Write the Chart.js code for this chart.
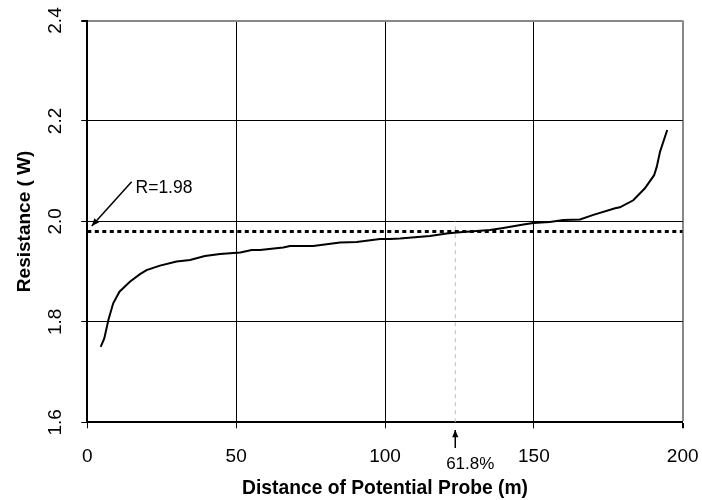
<!DOCTYPE html>
<html>
<head>
<meta charset="utf-8">
<script src="https://cdn.jsdelivr.net/npm/chart.js@4"></script>
<style>
  html, body { margin: 0; padding: 0; background: #fff; }
</style>
</head>
<body>
<canvas id="resChart" width="702" height="500"></canvas>
<script>
// Fall-of-potential curve
const distance = [4.5, 5.7, 7.1, 8.7, 10.8, 14.3, 17.7, 19.9, 24.4, 30, 34.5, 39.5, 44.6, 51.4, 55.2, 58,
    65.8, 68.1, 75.9, 84.9, 90.5, 98.3, 101.7, 105, 115.1, 120.7, 124.1, 135.3, 139.7, 146.5, 149.8,
    155.4, 159.9, 165.5, 170, 177.3, 178.9, 183.4, 187.3, 190.4, 191.3, 192.4, 194.8];
const resistance = [1.750, 1.767, 1.804, 1.837, 1.860, 1.880, 1.895, 1.903, 1.912, 1.920, 1.923, 1.931,
    1.935, 1.938, 1.943, 1.943, 1.948, 1.951, 1.951, 1.958, 1.959, 1.965, 1.965, 1.966, 1.971, 1.976,
    1.978, 1.983, 1.987, 1.994, 1.997, 1.999, 2.003, 2.004, 2.013, 2.026, 2.028, 2.042, 2.066, 2.092,
    2.109, 2.139, 2.182];

// Reference resistance line and 61.8% marker
const rLineX = [0, 200];
const rLineY = [1.98, 1.98];
const markX = [123.6, 123.6];
const markY = [1.6, 2.0];

const xTickLabels = ['0', '50', '100', '150', '200'];
const yTickLabels = ['1.6', '1.8', '2.0', '2.2', '2.4'];

const FONT = 'Liberation Sans, Arial, sans-serif';

function pts(xs, ys) {
    return xs.map(function(x, i) { return { x: x, y: ys[i] }; });
}

// Draw rotated y tick labels and the two annotations
const annotations = {
    id: 'annotations',
    afterDraw: function(chart) {
        const ctx = chart.ctx;
        const xs = chart.scales.x;
        const ys = chart.scales.y;
        ctx.save();
        ctx.fillStyle = '#000';

        // y tick labels, reading bottom to top
        ctx.font = '19px ' + FONT;
        ctx.textAlign = 'center';
        ctx.textBaseline = 'middle';
        ys.ticks.forEach(function(t, i) {
            ctx.save();
            ctx.translate(56, ys.getPixelForValue(t.value));
            ctx.rotate(-Math.PI / 2);
            ctx.fillText(yTickLabels[i], 0, 0);
            ctx.restore();
        });

        // R=1.98 arrow
        const tx = xs.getPixelForValue(14.9), ty = ys.getPixelForValue(2.079);
        const hx = xs.getPixelForValue(1.5), hy = ys.getPixelForValue(1.991);
        drawArrow(ctx, tx, ty, hx, hy);
        ctx.font = '17.5px ' + FONT;
        ctx.textAlign = 'left';
        ctx.fillText('R=1.98', xs.getPixelForValue(16.2), ys.getPixelForValue(2.066));

        // 61.8% arrow under the axis
        const ax = xs.getPixelForValue(123.6);
        drawArrow(ctx, ax, 448, ax, 430);
        ctx.font = '17px ' + FONT;
        ctx.textAlign = 'center';
        ctx.fillText('61.8%', ax + 15, 464);
        ctx.restore();
    }
};

function drawArrow(ctx, x1, y1, x2, y2) {
    const a = Math.atan2(y2 - y1, x2 - x1);
    ctx.strokeStyle = '#000';
    ctx.lineWidth = 1.5;
    ctx.beginPath();
    ctx.moveTo(x1, y1);
    ctx.lineTo(x2, y2);
    ctx.stroke();
    ctx.beginPath();
    ctx.moveTo(x2, y2);
    ctx.lineTo(x2 - 8 * Math.cos(a - 0.4), y2 - 8 * Math.sin(a - 0.4));
    ctx.lineTo(x2 - 8 * Math.cos(a + 0.4), y2 - 8 * Math.sin(a + 0.4));
    ctx.closePath();
    ctx.fill();
}

new Chart(document.getElementById('resChart').getContext('2d'), {
    type: 'scatter',
    data: {
        datasets: [{
            label: 'Resistance',
            data: pts(distance, resistance),
            showLine: true,
            borderColor: '#000',
            borderWidth: 2,
            pointRadius: 0,
            tension: 0
        }, {
            label: 'R',
            data: pts(rLineX, rLineY),
            showLine: true,
            borderColor: '#000',
            borderWidth: 3,
            borderDash: [4, 3.5],
            pointRadius: 0
        }, {
            label: '61.8%',
            data: pts(markX, markY),
            showLine: true,
            borderColor: '#bbb',
            borderWidth: 1,
            borderDash: [4, 4],
            pointRadius: 0
        }]
    },
    options: {
        responsive: false,
        animation: false,
        layout: { padding: { top: 20.5, right: 19.3, left: 0, bottom: 0 } },
        plugins: { legend: { display: false }, tooltip: { enabled: false } },
        scales: {
            x: {
                type: 'linear',
                min: 0,
                max: 200,
                afterFit: function(s) { s.height = 77.7; s.paddingLeft = 0; s.paddingRight = 0; },
                ticks: {
                    stepSize: 50,
                    padding: 17,
                    color: '#000',
                    font: { family: FONT, size: 19 },
                    callback: function(v, i) { return xTickLabels[i]; }
                },
                grid: {
                    color: function(c) { return c.tick && c.tick.value === 200 ? '#888' : '#000'; },
                    lineWidth: function(c) { return c.tick && c.tick.value === 200 ? 2 : 1; },
                    tickColor: '#000',
                    tickLength: 6
                },
                border: { color: '#000', width: 2 },
                title: {
                    display: true,
                    text: 'Distance of Potential Probe (m)',
                    color: '#000',
                    font: { family: FONT, size: 19.3, weight: 'bold' },
                    padding: { top: 0, bottom: 0 }
                }
            },
            y: {
                min: 1.6,
                max: 2.4,
                afterFit: function(s) { s.width = 87.3; s.paddingTop = 0; s.paddingBottom = 0; },
                ticks: { stepSize: 0.2, display: false },
                grid: {
                    color: function(c) { return c.tick && Math.abs(c.tick.value - 2.4) < 1e-6 ? '#888' : '#000'; },
                    lineWidth: function(c) { return c.tick && Math.abs(c.tick.value - 2.4) < 1e-6 ? 2 : 1; },
                    tickColor: '#000',
                    tickLength: 6
                },
                border: { color: '#000', width: 2 },
                title: {
                    display: true,
                    text: 'Resistance ( W)',
                    color: '#000',
                    font: { family: FONT, size: 19, weight: 'bold' },
                    padding: { top: 13, bottom: 0 }
                }
            }
        }
    },
    plugins: [annotations]
});
</script>
</body>
</html>
